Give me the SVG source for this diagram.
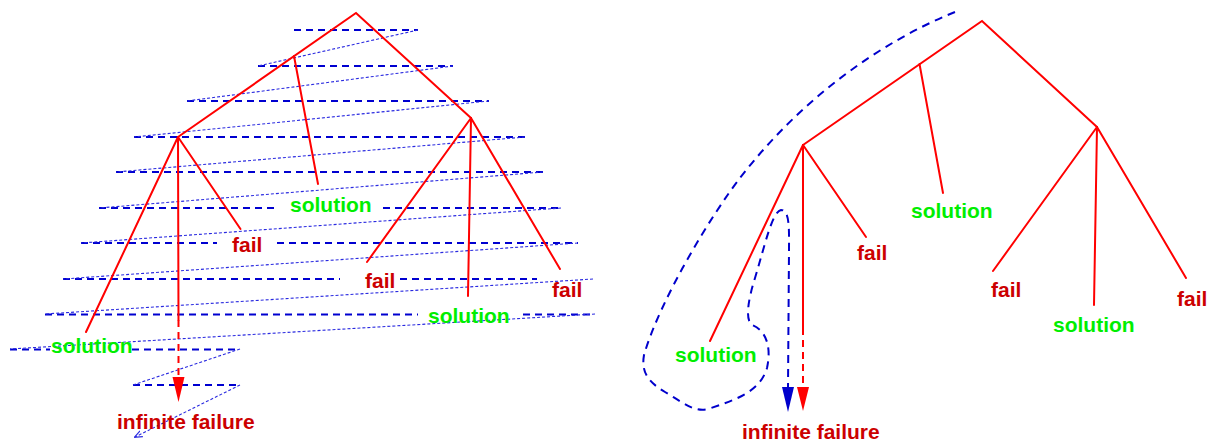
<svg xmlns="http://www.w3.org/2000/svg" width="1213" height="444" viewBox="0 0 1213 444">
<style>
.tree{stroke:#ff0000;stroke-width:2;fill:none;stroke-linecap:round}
.treed{stroke:#ff0000;stroke-width:2;fill:none;stroke-dasharray:7 5}
.scan{stroke:#0000d0;stroke-width:2;fill:none;stroke-dasharray:7 5}
.diag{stroke:#2a2ae0;stroke-width:1.1;fill:none;stroke-dasharray:3 2}
.path{stroke:#0000cc;stroke-width:2;fill:none;stroke-dasharray:8 6}
.lbl{font-family:"Liberation Sans",Arial,Helvetica,sans-serif;font-weight:bold;font-size:21px}
.sol{fill:#00ee00}
.fail{fill:#cc0000}
</style>
<defs>
<marker id="small" viewBox="0 0 10 10" refX="9" refY="5" markerWidth="8" markerHeight="8" markerUnits="userSpaceOnUse" orient="auto">
<path d="M0,1 L10,5 L0,9" fill="none" stroke="#2a2ae0" stroke-width="1.5"/>
</marker>
</defs>

<g id="scanlines">
<line class="scan" x1="294" y1="30" x2="418" y2="30"/>
<line class="scan" x1="258" y1="66" x2="453" y2="66"/>
<line class="scan" x1="187" y1="101" x2="489" y2="101"/>
<line class="scan" x1="134" y1="137" x2="525" y2="137"/>
<line class="scan" x1="116" y1="172" x2="543" y2="172"/>
<line class="scan" x1="99" y1="208" x2="277" y2="208"/>
<line class="scan" x1="383" y1="208" x2="561" y2="208"/>
<line class="scan" x1="81" y1="243" x2="217" y2="243"/>
<line class="scan" x1="277" y1="243" x2="578" y2="243"/>
<line class="scan" x1="63" y1="279" x2="340" y2="279"/>
<line class="scan" x1="400" y1="279" x2="537" y2="279"/>
<line class="scan" x1="45" y1="314.5" x2="418" y2="314.5"/>
<line class="scan" x1="523" y1="314.5" x2="595" y2="314.5"/>
<line class="scan" x1="10" y1="349.5" x2="50" y2="349.5"/>
<line class="scan" x1="132" y1="349.5" x2="240" y2="349.5"/>
<line class="scan" x1="133" y1="385" x2="241" y2="385"/>
<line class="diag" x1="418" y1="30" x2="258" y2="66"/>
<line class="diag" x1="453" y1="66" x2="187" y2="101"/>
<line class="diag" x1="489" y1="101" x2="134" y2="137"/>
<line class="diag" x1="525" y1="137" x2="116" y2="172"/>
<line class="diag" x1="543" y1="172" x2="99" y2="208"/>
<line class="diag" x1="561" y1="208" x2="81" y2="243"/>
<line class="diag" x1="578" y1="243" x2="63" y2="279"/>
<line class="diag" x1="593" y1="279" x2="45" y2="314"/>
<line class="diag" x1="595" y1="314" x2="10" y2="349"/>
<line class="diag" x1="240" y1="349" x2="133" y2="385"/>
<line class="diag" x1="240" y1="385" x2="135" y2="437" marker-end="url(#small)"/>
</g>

<g id="connectors">
<!-- left tree -->
<polyline class="tree" points="178,137 356,13 471,118"/>
<line class="tree" x1="294" y1="56" x2="318" y2="184"/>
<line class="tree" x1="178" y1="137" x2="86" y2="332"/>
<line class="tree" x1="178" y1="137" x2="240.5" y2="229"/>
<line class="tree" x1="178" y1="137" x2="178.5" y2="320"/>
<line class="treed" x1="178.5" y1="320" x2="178.5" y2="378"/>
<polygon points="172.5,377 184.5,377 178.5,402" fill="#ff0000"/>
<line class="tree" x1="471" y1="118" x2="367" y2="262"/>
<line class="tree" x1="471" y1="118" x2="468" y2="296"/>
<line class="tree" x1="471" y1="118" x2="560" y2="269"/>
<!-- right tree -->
<polyline class="tree" points="803,145 982,21 1097,127"/>
<line class="tree" x1="919.5" y1="64" x2="943" y2="193"/>
<line class="tree" x1="803" y1="145" x2="710" y2="341"/>
<line class="tree" x1="803" y1="145" x2="866" y2="237"/>
<line class="tree" x1="803" y1="145" x2="803" y2="328"/>
<line class="treed" x1="803" y1="328" x2="803" y2="388"/>
<polygon points="797,387 809,387 803,411" fill="#ff0000"/>
<line class="tree" x1="1097" y1="127" x2="993" y2="271"/>
<line class="tree" x1="1097" y1="127" x2="1094" y2="305"/>
<line class="tree" x1="1097" y1="127" x2="1186" y2="278"/>
<!-- search path -->
<path class="path" d="M955,12 C880,42 800,100 740,178 C710,217 660,300 644,355 C641,372 648,382 665,392 C682,402 695,413 708,409 C735,400 760,392 767,368 C772,345 765,330 752,325 C745,320 748,300 755,278 C765,245 772,212 781,210 C790,210 789,230 789,250 L788,388"/>
<polygon points="782,387 794,387 788,412" fill="#0000cc"/>
</g>

<g id="n-left-sol1"><text class="lbl sol" x="290" y="212">solution</text></g>
<g id="n-left-fail1"><text class="lbl fail" x="232" y="252">fail</text></g>
<g id="n-left-fail2"><text class="lbl fail" x="365" y="288">fail</text></g>
<g id="n-left-fail3"><text class="lbl fail" x="552" y="297">fail</text></g>
<g id="n-left-sol2"><text class="lbl sol" x="428" y="323">solution</text></g>
<g id="n-left-sol3"><text class="lbl sol" x="51" y="353">solution</text></g>
<g id="n-left-inf"><text class="lbl fail" x="117" y="429">infinite failure</text></g>

<g id="n-right-sol1"><text class="lbl sol" x="911" y="217.5">solution</text></g>
<g id="n-right-fail1"><text class="lbl fail" x="857" y="260">fail</text></g>
<g id="n-right-fail2"><text class="lbl fail" x="991" y="297">fail</text></g>
<g id="n-right-sol2"><text class="lbl sol" x="1053" y="332">solution</text></g>
<g id="n-right-fail3"><text class="lbl fail" x="1177" y="306">fail</text></g>
<g id="n-right-sol3"><text class="lbl sol" x="675" y="362">solution</text></g>
<g id="n-right-inf"><text class="lbl fail" x="742" y="439">infinite failure</text></g>
</svg>
